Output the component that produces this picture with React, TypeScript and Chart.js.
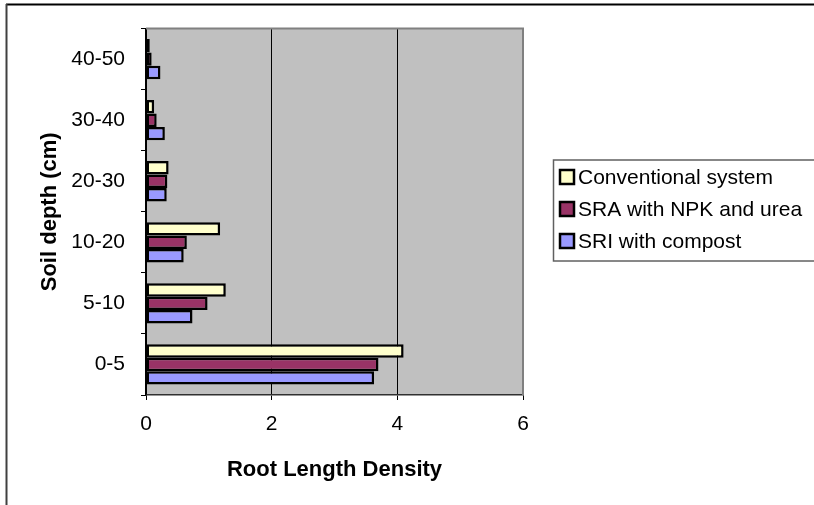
import React, { useEffect, useRef } from 'react';
import { Chart, registerables } from 'chart.js';

Chart.register(...registerables);

const categories = ['0-5', '5-10', '10-20', '20-30', '30-40', '40-50'];
const seriesNames = ['Conventional system', 'SRA with NPK and urea', 'SRI with compost'];
const conventional = [4.1, 1.27, 1.18, 0.36, 0.13, 0.06];
const sraNpkUrea = [3.7, 0.98, 0.65, 0.34, 0.17, 0.09];
const sriCompost = [3.63, 0.74, 0.6, 0.33, 0.3, 0.23];
const xTickValues = [0, 2, 4, 6];
const xTitle = 'Root Length Density';
const yTitle = 'Soil depth (cm)';

const seriesColors = ['#FFFFCC', '#993366', '#9999FF'];
const FONT = '"Liberation Sans", Arial, sans-serif';

const framePlugin = {
  id: 'excelFrame',
  beforeDraw(chart: any) {
    const { ctx, chartArea, width, height } = chart;
    ctx.save();
    ctx.fillStyle = '#FFFFFF';
    ctx.fillRect(0, 0, width, height);
    ctx.strokeStyle = '#000000';
    ctx.lineWidth = 2;
    ctx.beginPath();
    ctx.moveTo(6, 4.5);
    ctx.lineTo(width, 4.5);
    ctx.stroke();
    ctx.strokeStyle = '#404040';
    ctx.beginPath();
    ctx.moveTo(6.5, 4);
    ctx.lineTo(6.5, height);
    ctx.stroke();
    ctx.fillStyle = '#C0C0C0';
    ctx.fillRect(chartArea.left, chartArea.top, chartArea.right - chartArea.left, chartArea.bottom - chartArea.top);
    ctx.restore();
  },
  afterDraw(chart: any) {
    const { ctx, chartArea } = chart;
    ctx.save();
    ctx.strokeStyle = '#808080';
    ctx.lineWidth = 2;
    ctx.beginPath();
    ctx.moveTo(chartArea.left, chartArea.top);
    ctx.lineTo(chartArea.right, chartArea.top);
    ctx.lineTo(chartArea.right, chartArea.bottom);
    ctx.stroke();

    const lx = 553.5;
    const ly = 160;
    const lw = 300;
    const lh = 101;
    ctx.strokeStyle = '#606060';
    ctx.lineWidth = 1.5;
    ctx.strokeRect(lx, ly, lw, lh);
    ctx.font = `21px ${FONT}`;
    ctx.textBaseline = 'middle';
    ctx.textAlign = 'left';
    chart.data.datasets.forEach((ds: any, i: number) => {
      const cy = 177 + i * 32;
      ctx.fillStyle = ds.backgroundColor;
      ctx.fillRect(560, cy - 7, 14, 14);
      ctx.strokeStyle = '#000000';
      ctx.lineWidth = 2.5;
      ctx.strokeRect(560, cy - 7, 14, 14);
      ctx.fillStyle = '#000000';
      ctx.fillText(ds.label, 578, cy + 1);
    });
    ctx.restore();
  },
};

export default function App() {
  const canvasRef = useRef<HTMLCanvasElement | null>(null);

  useEffect(() => {
    const canvas = canvasRef.current;
    if (!canvas) return;
    const values = [conventional, sraNpkUrea, sriCompost];
    const chart = new Chart(canvas, {
      type: 'bar',
      data: {
        labels: categories,
        datasets: values.map((v, i) => ({
          label: seriesNames[i],
          data: v,
          backgroundColor: seriesColors[i],
          borderColor: '#000000',
          borderWidth: 2.5,
          borderSkipped: false,
          categoryPercentage: 0.66,
          barPercentage: 1.0,
        })),
      },
      options: {
        indexAxis: 'y',
        responsive: false,
        animation: false,
        devicePixelRatio: 1,
        layout: { padding: { left: 0, top: 25, right: 291, bottom: 0 } },
        plugins: {
          legend: { display: false },
          tooltip: { enabled: false },
        },
        scales: {
          x: {
            type: 'linear',
            min: 0,
            max: 6,
            afterBuildTicks: (scale: any) => {
              scale.ticks = xTickValues.map((v) => ({ value: v }));
            },
            afterFit: (scale: any) => {
              scale.height = 110;
            },
            ticks: {
              color: '#000000',
              font: { family: FONT, size: 21 },
              padding: 12,
            },
            grid: {
              color: (c: any) => (c.tick && c.tick.value === 6 ? '#808080' : '#000000'),
              lineWidth: 1,
              tickLength: 5,
              tickColor: '#000000',
            },
            border: { color: '#303030', width: 1.5 },
            title: {
              display: true,
              text: xTitle,
              color: '#000000',
              font: { family: FONT, size: 22, weight: 'bold' },
              padding: { top: 0, bottom: 22 },
            },
          },
          y: {
            type: 'category',
            reverse: true,
            afterFit: (scale: any) => {
              scale.width = 146;
            },
            ticks: {
              color: '#000000',
              font: { family: FONT, size: 21 },
              padding: 16,
            },
            grid: {
              drawOnChartArea: false,
              tickLength: 5,
              tickColor: '#000000',
              offset: true,
            },
            border: { color: '#000000', width: 1.5 },
            title: {
              display: true,
              text: yTitle,
              color: '#000000',
              font: { family: FONT, size: 22, weight: 'bold' },
              padding: { top: 37, bottom: 0 },
            },
          },
        },
      },
      plugins: [framePlugin],
    } as any);
    return () => chart.destroy();
  }, []);

  return (
    <div style={{ position: 'absolute', left: 0, top: 0, width: 814, height: 505 }}>
      <canvas ref={canvasRef} width={814} height={505} style={{ display: 'block' }} />
    </div>
  );
}
